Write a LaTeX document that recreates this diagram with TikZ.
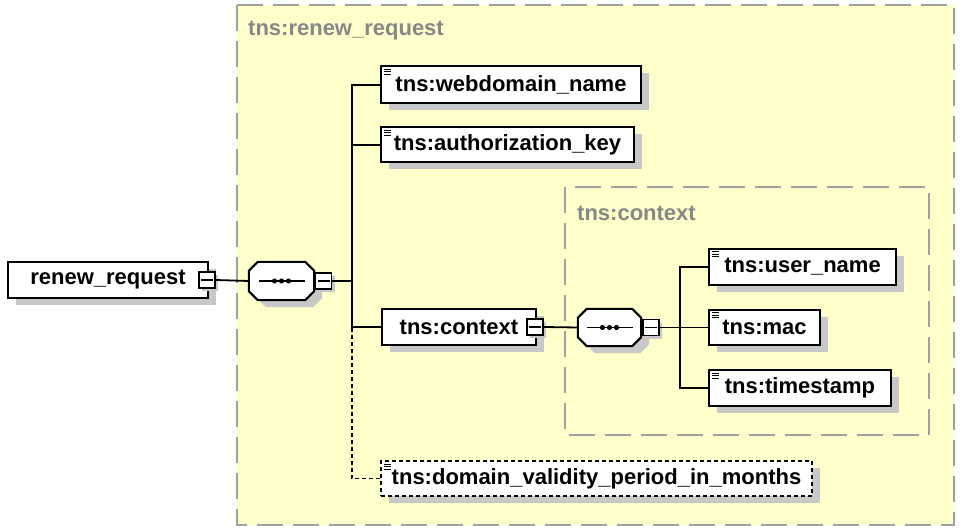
\documentclass[tikz,border=0pt]{standalone}
\usepackage{fontspec}
\setmainfont{Liberation Sans}
\usetikzlibrary{shadows}

\definecolor{boxyellow}{RGB}{255,255,204}
\definecolor{framegray}{RGB}{160,160,160}
\definecolor{captiongray}{RGB}{136,136,136}
\definecolor{shadegray}{RGB}{200,200,200}

\tikzset{
  lbl/.style={font=\fontsize{22}{26}\selectfont\bfseries},
  shadowed/.style={drop shadow={shadow xshift=8pt, shadow yshift=-7pt, fill=shadegray, opacity=1}},
  elem/.style={lbl, shadowed, draw=black, line width=2pt, fill=white, inner sep=0pt, anchor=west},
  optelem/.style={elem, dash pattern=on 4pt off 3pt},
  seqbox/.style={rectangle, inner sep=0pt, minimum width=65pt, minimum height=38pt},
  fold/.style={draw=black, line width=1.5pt, fill=white, minimum size=16pt, inner sep=0pt,
    drop shadow={shadow xshift=3pt, shadow yshift=-3pt, fill=shadegray, opacity=1}},
  link/.style={line width=1.8pt},
  optlink/.style={line width=1.8pt, dash pattern=on 4pt off 3pt},
  group/.style={draw=framegray, fill=boxyellow, line width=2pt, dash pattern=on 26pt off 10pt},
  grouptitle/.style={lbl, text=captiongray, anchor=west, inner sep=0pt},
}

% minus sign inside a collapse box
\newcommand\foldmark[1]{\draw[line width=1.5pt] ([xshift=-6pt]#1.center) -- ([xshift=6pt]#1.center);}
% small three-line element marker in the upper-left corner
\newcommand\elemmark[1]{\draw[line width=1pt, shift={(#1.north west)}]
  (4,4) -- (11,4) (4,6.5) -- (11,6.5) (4,9) -- (11,9);}
% octagonal outline of a sequence compositor
\newcommand\octpath[1]{([xshift=9pt]#1.north west) -- ([xshift=-9pt]#1.north east)
  -- ([yshift=-9pt]#1.north east) -- ([yshift=9pt]#1.south east)
  -- ([xshift=-9pt]#1.south east) -- ([xshift=9pt]#1.south west)
  -- ([yshift=9pt]#1.south west) -- ([yshift=-9pt]#1.north west) -- cycle}
% sequence compositor: octagon with a shadow, a line and three dots
\newcommand\seqmark[1]{%
  \fill[shadegray, transform canvas={shift={(8pt,-7pt)}}] \octpath{#1};
  \draw[line width=2pt, fill=white] \octpath{#1};
  \draw[line width=1.5pt] ([xshift=-23pt]#1.center) -- ([xshift=23pt]#1.center);
  \foreach \d in {-7,0,7} \fill ([xshift=\d pt]#1.center) circle (2.6pt);}

\begin{document}
\begin{tikzpicture}[x=1pt, y=-1pt]
  \fill[white] (0,0) rectangle (961,529);
  \path[use as bounding box] (0,0) rectangle (961,529);

  % complex type groups
  \path[group] (237,5) rectangle (954,525);
  \node[grouptitle] (title1) at (248,31) {tns:renew\_request};
  \path[group] (565,187) rectangle (929,435);
  \node[grouptitle] (title2) at (577,213) {tns:context};

  % root element
  \node[elem, minimum width=200pt, minimum height=36pt] (root) at (7,280) {renew\_request\hspace{6pt}};
  \node[fold] (rootfold) at (207,280) {};
  \foldmark{rootfold}

  % outer sequence
  \node[seqbox] (seq1) at (281.5,281) {};
  \seqmark{seq1}
  \node[fold] (seq1fold) at (323.5,281) {};
  \foldmark{seq1fold}

  % children of renew_request
  \node[elem, minimum width=260pt, minimum height=37pt] (web) at (380,85) {tns:webdomain\_name};
  \elemmark{web}
  \node[elem, minimum width=253pt, minimum height=35pt] (auth) at (380,145) {tns:authorization\_key};
  \elemmark{auth}
  \node[elem, minimum width=154pt, minimum height=36pt] (ctx) at (381,327) {tns:context\hspace{14pt}};
  \node[fold] (ctxfold) at (535,327) {};
  \foldmark{ctxfold}
  \node[optelem, minimum width=431pt, minimum height=35pt] (dvp) at (380,478.5) {tns:domain\_validity\_period\_in\_months};
  \elemmark{dvp}

  % inner sequence
  \node[seqbox, minimum width=63pt, minimum height=37pt] (seq2) at (609.5,327.5) {};
  \seqmark{seq2}
  \node[fold] (seq2fold) at (651,327.5) {};
  \foldmark{seq2fold}

  % children of context
  \node[elem, minimum width=187pt, minimum height=36pt] (user) at (708,267) {tns:user\_name};
  \elemmark{user}
  \node[elem, minimum width=111pt, minimum height=35pt] (mac) at (708,327.5) {tns:mac};
  \elemmark{mac}
  \node[elem, minimum width=182pt, minimum height=36pt] (ts) at (708,388) {tns:timestamp};
  \elemmark{ts}

  % connectors
  \coordinate (bus1) at (352,281);
  \coordinate (bus1b) at (352,327);
  \coordinate (bus2) at (680,327.5);
  \draw[link] (rootfold.east) -- (seq1.west);
  \draw[link] (seq1fold.east) -- (bus1);
  \draw[link] (web.west) -| (bus1);
  \draw[link] (auth.west) -| (bus1);
  \draw[link] (ctx.west) -| (bus1);
  \draw[optlink] (dvp.west) -| (bus1b);
  \draw[link] (ctxfold.east) -- (seq2.west);
  \draw[link] (seq2fold.east) -- (bus2);
  \draw[link] (user.west) -| (bus2);
  \draw[link] (mac.west) -- (bus2);
  \draw[link] (ts.west) -| (bus2);
\end{tikzpicture}
\end{document}
